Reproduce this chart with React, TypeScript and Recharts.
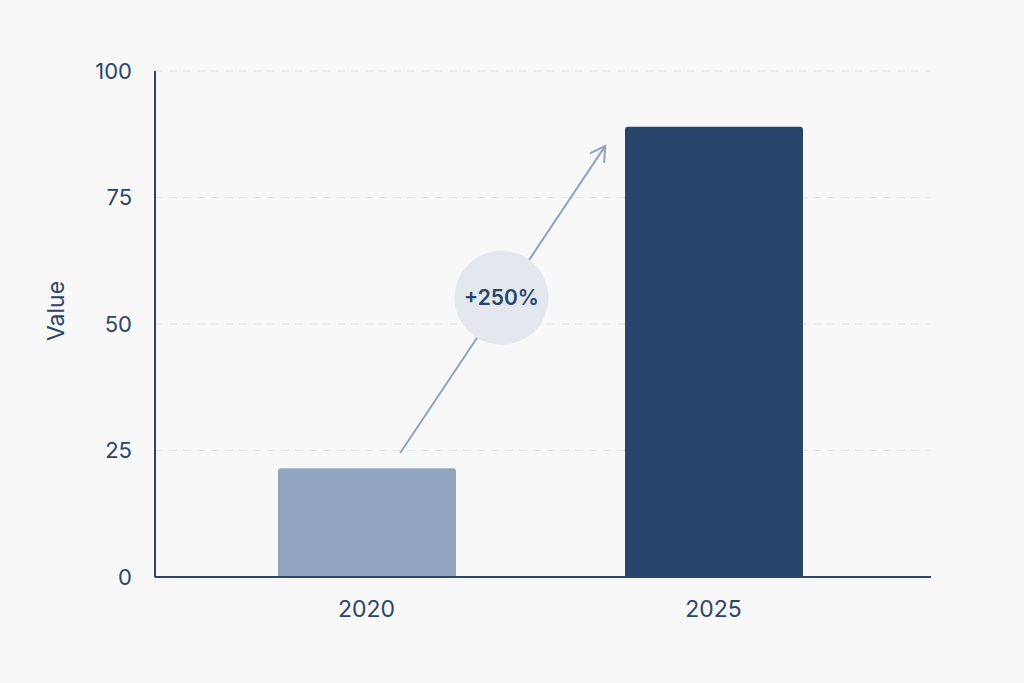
import {
  Bar,
  BarChart,
  CartesianGrid,
  Cell,
  ReferenceDot,
  ReferenceLine,
  XAxis,
  YAxis
} from "recharts";

const years = ["2020", "2025"];
const values = [21.5, 89];
const positions = [0.5, 1.5];
const yTicks = [0, 25, 50, 75, 100];
const barColors = ["#91a5c0", "#28456b"];

// arrow annotation, in (band position, value) units
const arrowStart = { x: 0.597, y: 24.5 };
const arrowEnd = { x: 1.188, y: 85.2 };
const badge = { x: 0.889, y: 55.2, text: "+250%" };

const data = years.map((year, i) => ({ year, value: values[i], pos: positions[i] }));

const ink = "#2a4569";
const font = "Inter, 'Noto Sans', sans-serif";

function Arrow(props: any) {
  const { x1, y1, x2, y2 } = props;
  const angle = Math.atan2(y2 - y1, x2 - x1);
  const len = 17;
  const spread = Math.PI / 6;
  const ax = x2 - len * Math.cos(angle - spread);
  const ay = y2 - len * Math.sin(angle - spread);
  const bx = x2 - len * Math.cos(angle + spread);
  const by = y2 - len * Math.sin(angle + spread);
  return (
    <g>
      <line x1={x1} y1={y1} x2={x2} y2={y2} stroke="#8ea3bf" strokeWidth={2} />
      <polyline
        points={`${ax},${ay} ${x2},${y2} ${bx},${by}`}
        fill="none"
        stroke="#8ea3bf"
        strokeWidth={2}
      />
    </g>
  );
}

export default function App() {
  return (
    <div
      style={{
        position: "fixed",
        left: 0,
        top: 0,
        width: 1024,
        height: 683,
        background: "#f8f8f9"
      }}
    >
      <BarChart
        width={1024}
        height={683}
        data={data}
        margin={{ top: 71, right: 93, bottom: 76, left: 75 }}
        style={{ fontFamily: font }}
      >
        <CartesianGrid
          xAxisId="cat"
          vertical={false}
          stroke="#dde1e7"
          strokeDasharray="8 6"
          horizontalValues={[25, 50, 75, 100]}
        />
        <XAxis
          xAxisId="cat"
          dataKey="year"
          height={30}
          padding={{ left: 38, right: 44 }}
          stroke={ink}
          strokeWidth={2}
          tickLine={false}
          tickMargin={18}
          tick={{ fill: ink, fontSize: 23, fontFamily: font }}
        />
        <XAxis
          xAxisId="num"
          dataKey="pos"
          type="number"
          domain={[0, 2]}
          allowDataOverflow
          padding={{ left: 38, right: 44 }}
          hide
        />
        <YAxis
          width={80}
          domain={[0, 100]}
          ticks={yTicks}
          stroke={ink}
          strokeWidth={2}
          tickLine={false}
          tickMargin={17}
          tick={{ fill: ink, fontSize: 22, fontFamily: font }}
          label={{
            content: ({ viewBox }: any) => {
              const lx = viewBox.x - 19;
              const ly = viewBox.y + viewBox.height / 2 - 13;
              return (
                <text
                  x={lx}
                  y={ly}
                  transform={`rotate(-90, ${lx}, ${ly})`}
                  textAnchor="middle"
                  dominantBaseline="central"
                  fill={ink}
                  fontSize={23}
                  fontFamily={font}
                >
                  Value
                </text>
              );
            }
          }}
        />
        <Bar
          xAxisId="cat"
          dataKey="value"
          barSize={178}
          radius={[3, 3, 0, 0]}
          isAnimationActive={false}
        >
          {data.map((d, i) => (
            <Cell key={d.year} fill={barColors[i]} />
          ))}
        </Bar>
        <ReferenceLine
          xAxisId="num"
          segment={[arrowStart, arrowEnd]}
          shape={Arrow}
        />
        <ReferenceDot
          xAxisId="num"
          x={badge.x}
          y={badge.y}
          r={47}
          fill="#e4e8ee"
          stroke="none"
          label={{
            value: badge.text,
            position: "center",
            fill: ink,
            fontSize: 21,
            fontWeight: 600,
            fontFamily: font
          }}
        />
      </BarChart>
    </div>
  );
}
